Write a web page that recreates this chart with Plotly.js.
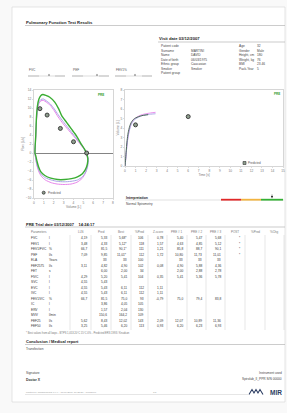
<!DOCTYPE html>
<html><head><meta charset="utf-8">
<script src="https://cdn.plot.ly/plotly-3.0.1.min.js"></script>
<style>html,body{margin:0;padding:0;background:#fff;}#c{width:287px;height:413px;}</style>
</head><body><div id="c"></div>
<script>
// ---------- DATA ----------
const fvVolGreen = [0.1,0.18,0.25,0.35,0.5,0.7,0.9,1.2,1.6,2.1,2.5,2.8,3.3,3.8,4.3,4.8,5.1,5.3,5.45,5.4,5.2,4.9,4.4,3.8,3.1,2.4,1.7,1.1,0.7,0.45,0.3,0.2,0.1];
const fvFlowGreen = [0,4,8,10.5,12,12.8,13,12.8,12.4,11.3,9.8,8.3,6.8,5.3,3.8,1.9,0.9,0,-1.2,-2.5,-3.7,-4.6,-5.3,-5.7,-5.9,-5.9,-5.6,-5.0,-4.2,-3.0,-1.8,-0.8,0];
const fvVolPink = [0.1,0.18,0.25,0.35,0.5,0.7,0.95,1.25,1.65,2.05,2.45,2.95,3.45,3.95,4.45,4.85,5.15,5.3,5.45,5.4,5.2,4.85,4.35,3.75,3.05,2.35,1.75,1.15,0.75,0.5,0.3,0.18,0.1];
const fvFlowPink = [0,3.5,7,9.5,11,11.6,11.7,11.3,10.6,9.4,8.0,6.5,5.2,3.9,2.6,1.5,0.6,0,-1.5,-3,-4.5,-5.7,-6.5,-6.9,-7.0,-6.9,-6.6,-6.0,-5.2,-4.2,-2.8,-1.4,0];
const fvVolLav = [0.1,0.18,0.25,0.35,0.5,0.7,0.95,1.25,1.65,2.05,2.45,2.95,3.45,3.95,4.45,4.85,5.15,5.32,5.5,5.45,5.25,4.9,4.4,3.75,3.05,2.35,1.75,1.15,0.75,0.5,0.3,0.18,0.1];
const fvFlowLav = [0,3.8,7.5,10,11.3,11.9,12.0,11.6,10.9,9.8,8.5,7.0,5.6,4.2,2.8,1.7,0.7,0,-1.4,-2.8,-4.2,-5.3,-6.0,-6.3,-6.4,-6.3,-6.0,-5.5,-4.8,-3.9,-2.6,-1.3,0];
const fvPredVol = [0.6,1.33,2.67,4.0,5.33];
const fvPredFlow = [9.85,8.43,5.46,2.5,0];

const vtTimeGreen = [0,0.05,0.1,0.2,0.3,0.45,0.6,0.8,1.0,1.3,1.6,1.9,2.2];
const vtVolGreen = [0,0.6,1.4,2.7,3.5,4.2,4.6,4.9,5.05,5.2,5.3,5.36,5.4];
const vtTimePink = [0,0.05,0.1,0.2,0.3,0.45,0.6,0.8,1.0,1.3,1.6,2.0,2.4,2.9];
const vtVolPink = [0,0.5,1.2,2.4,3.2,4.0,4.5,4.85,5.05,5.25,5.4,5.5,5.58,5.65];
const vtTimeLav = [0,0.05,0.1,0.2,0.3,0.45,0.6,0.8,1.0,1.3,1.6,2.0,2.4,2.9];
const vtVolLav = [0,0.5,1.1,2.3,3.1,3.9,4.4,4.75,4.95,5.15,5.3,5.4,5.45,5.5];
const vtPredTime = [1,6];
const vtPredVol = [4.33,5.2];

const patientLabels = ['Patient code','Surname','Name','Date of birth','Ethnic group','Smoker','Patient group'];
const patientValues = ['','MARTINI','DAVID','06/03/1975','Caucasian','Smoker',''];
const patientLabels2 = ['Age','Gender','Height, cm','Weight, kg','BMI','Pack-Year'];
const patientValues2 = ['32','Male','180','76','23.46','5'];

const tableHeaders = ['LLN','Pred','Best','%Pred','Z-score','PRE # 1','PRE # 2','PRE # 3','POST','%Pred','%Chg'];
const params = ['FVC','FEV1','FEV1/FVC','PEF','ELA','FEF2575','FET','FIVC','SVC','EVC','IVC','FEV1/VC','IC','ERV','MVV','FEF25','FEF50'];
const units = ['l','l','%','l/s','Years','l/s','s','l','l','l','l','%','l','l','l/min','l/s','l/s'];
const lln = ['4,19','3,48','66,7','7,09','','3,11','','4,29','4,55','4,55','4,55','66,7','','','','5,62','3,25'];
const pred = ['5,33','4,33','81,5','9,85','33','4,82','6,00','5,20','5,43','5,43','5,43','81,5','3,86','1,57','150,6','8,43','5,46'];
const best = ['5,68*','5,12*','90,1*','11,01*','33','4,90','2,00','5,41','','6,11','6,11','75,0','4,05','2,04','164,2','12,02','6,20'];
const pctPred = ['106','118','111','112','100','102','34','104','','112','112','93','105','130','109','143','113'];
const zscore = ['0,78','1,57','1,21','1,72','','0,08','','0,35','','1,11','1,11','-0,79','','','','2,09','0,93'];
const pre1 = ['5,40','4,63','85,8','10,80','33','4,90','2,00','5,41','','','','75,0','','','','12,07','6,20'];
const pre2 = ['5,47','4,85','88,7','11,73','33','5,88','2,88','5,36','','','','79,4','','','','10,89','6,23'];
const pre3 = ['5,68','5,12','90,1','11,01','33','4,36','2,78','5,78','','','','83,8','','','','11,36','6,93'];
const post = ['*','*','*','*','','','','','','','','','','','','',''];
const postPct = ['','','','','','','','','','','','','','','','',''];
const postChg = ['','','','','','','','','','','','','','','','',''];

// ---------- LAYOUT HELPERS ----------
const W = 287, H = 413;
const X = p => p / W;
const Y = p => 1 - p / H;
const FONT = 'Liberation Sans, Arial, sans-serif';
const ann = [];
function txt(x, y, text, o) {
  o = o || {};
  ann.push({xref:'paper', yref:'paper', x:X(x), y:Y(y), text:text, showarrow:false,
    xanchor:o.anchor || 'left', yanchor:'middle', borderpad:0,
    font:{family:FONT, size:o.size || 3.4, color:o.color || '#444'}});
}
const shapes = [];
function line(x0, y0, x1, y1, color, width) {
  shapes.push({type:'line', xref:'paper', yref:'paper', x0:X(x0), y0:Y(y0), x1:X(x1), y1:Y(y1),
    line:{color:color || '#999', width:width || 0.6}});
}
function rect(x0, y0, x1, y1, fill, lc, layer) {
  shapes.push({type:'rect', xref:'paper', yref:'paper', x0:X(x0), y0:Y(y0), x1:X(x1), y1:Y(y1),
    fillcolor:fill, line:{color:lc || 'rgba(0,0,0,0)', width:lc ? 0.6 : 0}, layer:layer || 'above'});
}

// page
rect(12, 7, 285, 402, '#ffffff', '#d4d4d4', 'below');

// header
txt(25, 22, '<b>Pulmonary Function Test Results</b>', {size:4.2, color:'#222'});
line(25, 25.5, 285, 25.5, '#aaa', 0.6);
txt(158, 39, '<b>Visit date 03/12/2007</b>', {size:4.2, color:'#222'});
line(158, 42, 285, 42, '#aaa', 0.6);
patientLabels.forEach((l, i) => {
  const y = 46 + i * 4.5;
  txt(160, y, l, {size:3.2});
  if (patientValues[i]) txt(190, y, patientValues[i], {size:3.2});
});
patientLabels2.forEach((l, i) => {
  const y = 46 + i * 4.5;
  txt(238, y, l, {size:3.2});
  txt(256, y, patientValues2[i], {size:3.2});
});

// slider indicators
[[28, 'FVC', 49], [72, 'PEF', 97], [115, 'FEV1%', 135]].forEach(s => {
  const x = s[0];
  txt(x, 70, s[1], {size:3.2, color:'#555'});
  rect(x, 75, x + 11, 77, '#d8d8d8');
  line(x + 11, 76, x + 27, 76, '#bbb', 0.5);
  rect(x + 27, 75, x + 37, 77, '#d8d8d8');
  shapes.push({type:'path', xref:'paper', yref:'paper',
    path:`M ${X(s[2]-1)} ${Y(75.5)} L ${X(s[2]+1)} ${Y(75.5)} L ${X(s[2])} ${Y(73.8)} Z`,
    fillcolor:'#555', line:{width:0}});
});

// chart overlays
txt(105, 95, '<b>PRE</b>', {size:3, color:'#2a9a2a', anchor:'right'});
shapes.push({type:'circle', xref:'paper', yref:'paper', x0:X(42.2), y0:Y(191.2), x1:X(45.2), y1:Y(194.2),
  fillcolor:'#8e9e8e', line:{color:'#333', width:0.8}});
txt(47, 192.7, 'Predicted', {size:3, color:'#555'});
txt(281, 94, '<b>PRE</b>', {size:3, color:'#2a9a2a', anchor:'right'});
rect(243, 161.5, 246, 164.5, '#8e9e8e', '#333');
txt(247, 163, 'Predicted', {size:3, color:'#555'});

// interpretation
txt(125, 197.5, '<b>Interpretation</b>', {size:3.4, color:'#222'});
line(125, 200, 284, 200, '#ccc', 0.6);
rect(221, 198.8, 241, 200.6, '#e02828');
rect(241, 198.8, 261, 200.6, '#f2b440');
rect(261, 198.8, 283, 200.6, '#34b034');
shapes.push({type:'path', xref:'paper', yref:'paper',
  path:`M ${X(271)} ${Y(196)} L ${X(273)} ${Y(196)} L ${X(272)} ${Y(198.5)} Z`, fillcolor:'#111', line:{width:0}});
line(272, 194.5, 272, 196.5, '#111', 0.5);
txt(125, 204.5, 'Normal Spirometry', {size:3.2});

// table
txt(25, 224, '<b>PRE Trial date 03/12/2007&nbsp;&nbsp;&nbsp; 14:24:17</b>', {size:4, color:'#222'});
line(25, 227, 285, 227, '#aaa', 0.6);
const colLines = [70, 91, 111, 131, 148, 167, 187, 206, 225, 245, 265, 284];
txt(30, 232, 'Parameters', {size:3, color:'#777'});
tableHeaders.forEach((h, j) => txt((colLines[j] + colLines[j + 1]) / 2, 232, h, {size:3, color:'#777', anchor:'center'}));
colLines.forEach(c => line(c, 235, c, 330, '#cfcfcf', 0.5));
const cols = [lln, pred, best, pctPred, zscore, pre1, pre2, pre3, post, postPct, postChg];
params.forEach((p, i) => {
  const y = 238 + i * 5.5;
  txt(30, y, p, {size:3.2, color:'#333'});
  txt(48, y, units[i], {size:3.2, color:'#333'});
  cols.forEach((col, j) => {
    if (col[i]) txt(colLines[j + 1] - 3, y, col[i], {size:3.2, color:'#333', anchor:'right'});
  });
});
txt(25, 332.5, '* Best values from all loops - BTPS 1,053 20°C 15°C 0% - Predicted ERS 1993 / Knudson', {size:2.6, color:'#777'});

// conclusion & footer
txt(25, 341.5, '<b>Conclusion / Medical report</b>', {size:4, color:'#222'});
line(25, 344.5, 285, 344.5, '#aaa', 0.6);
txt(25, 349, 'Transfection', {size:3.2});
txt(25, 373, 'Signature', {size:3.2});
txt(25, 379.5, '<b>Doctor X</b>', {size:3.4, color:'#333'});
txt(283, 373, 'Instrument used', {size:3.2, anchor:'right'});
txt(283, 378.5, 'Spirolab_II_PPR S/N 00000', {size:3.2, anchor:'right'});
line(25, 394.5, 248, 394.5, '#ccc', 0.5);
txt(25, 392, 'printed by winspiroPRO 6.x.x - 17/09/2009 10:35:21 - WinSPiro', {size:2.5, color:'#999'});
txt(152, 392, '1/1', {size:2.5, color:'#999'});
shapes.push({type:'path', xref:'paper', yref:'paper',
  path:`M ${X(249)} ${Y(394.5)} L ${X(252)} ${Y(389.5)} L ${X(254)} ${Y(393)} L ${X(256)} ${Y(389.5)} L ${X(258)} ${Y(393)} L ${X(260)} ${Y(389.5)} L ${X(263)} ${Y(394.5)}`,
  line:{color:'#2d3e63', width:1.1}});
txt(283, 392, '<b>MIR</b>', {size:6.5, color:'#2d3e63', anchor:'right'});

// ---------- TRACES ----------
const ln = (x, y, color, w, xa, ya) => ({x:x, y:y, type:'scatter', mode:'lines', xaxis:xa, yaxis:ya,
  line:{color:color, width:w, shape:'spline', smoothing:0.6}, hoverinfo:'skip'});
const traces = [
  ln(fvVolPink, fvFlowPink, '#e884ea', 1, 'x', 'y'),
  ln(fvVolLav, fvFlowLav, '#a9a6e6', 1, 'x', 'y'),
  ln(fvVolGreen, fvFlowGreen, '#3aad33', 1.4, 'x', 'y'),
  {x:fvPredVol, y:fvPredFlow, type:'scatter', mode:'markers', xaxis:'x', yaxis:'y',
   marker:{size:4, color:'#8e9e8e', line:{color:'#333', width:0.9}}},
  ln(vtTimePink, vtVolPink, '#e884ea', 0.9, 'x2', 'y2'),
  ln(vtTimeLav, vtVolLav, '#a9a6e6', 0.9, 'x2', 'y2'),
  ln(vtTimeGreen, vtVolGreen, '#4a6a55', 1, 'x2', 'y2'),
  {x:vtPredTime, y:vtPredVol, type:'scatter', mode:'markers', xaxis:'x2', yaxis:'y2',
   marker:{size:4, color:'#8e9e8e', line:{color:'#333', width:0.9}}}
];

const axBase = {showline:true, mirror:true, linecolor:'#bbb', linewidth:0.6, showgrid:false, zeroline:false,
  ticks:'outside', ticklen:1.5, tickwidth:0.5, tickcolor:'#bbb', tickfont:{family:FONT, size:3.2, color:'#777'}, fixedrange:true};
const layout = {
  width:W, height:H, margin:{l:0, r:0, t:0, b:0}, paper_bgcolor:'#f9f9f9', plot_bgcolor:'#ffffff',
  showlegend:false,
  xaxis:Object.assign({}, axBase, {domain:[X(34), X(113)], range:[0, 8], dtick:1,
    title:{text:'Volume [L]', font:{family:FONT, size:3.2, color:'#777'}, standoff:1}, anchor:'y'}),
  yaxis:Object.assign({}, axBase, {domain:[Y(198), Y(90)], range:[-10, 14], dtick:2,
    zeroline:true, zerolinecolor:'#777', zerolinewidth:0.9,
    title:{text:'Flow [L/s]', font:{family:FONT, size:3.2, color:'#777'}, standoff:1}, anchor:'x'}),
  xaxis2:Object.assign({}, axBase, {domain:[X(125), X(283)], range:[0, 15], dtick:1,
    title:{text:'Time [s]', font:{family:FONT, size:3.2, color:'#777'}, standoff:1}, anchor:'y2'}),
  yaxis2:Object.assign({}, axBase, {domain:[Y(166), Y(90)], range:[0, 8], dtick:1,
    title:{text:'Volume [L]', font:{family:FONT, size:3.2, color:'#777'}, standoff:1}, anchor:'x2'}),
  annotations:ann, shapes:shapes
};
Plotly.newPlot('c', traces, layout, {staticPlot:true, displayModeBar:false});
</script></body></html>
